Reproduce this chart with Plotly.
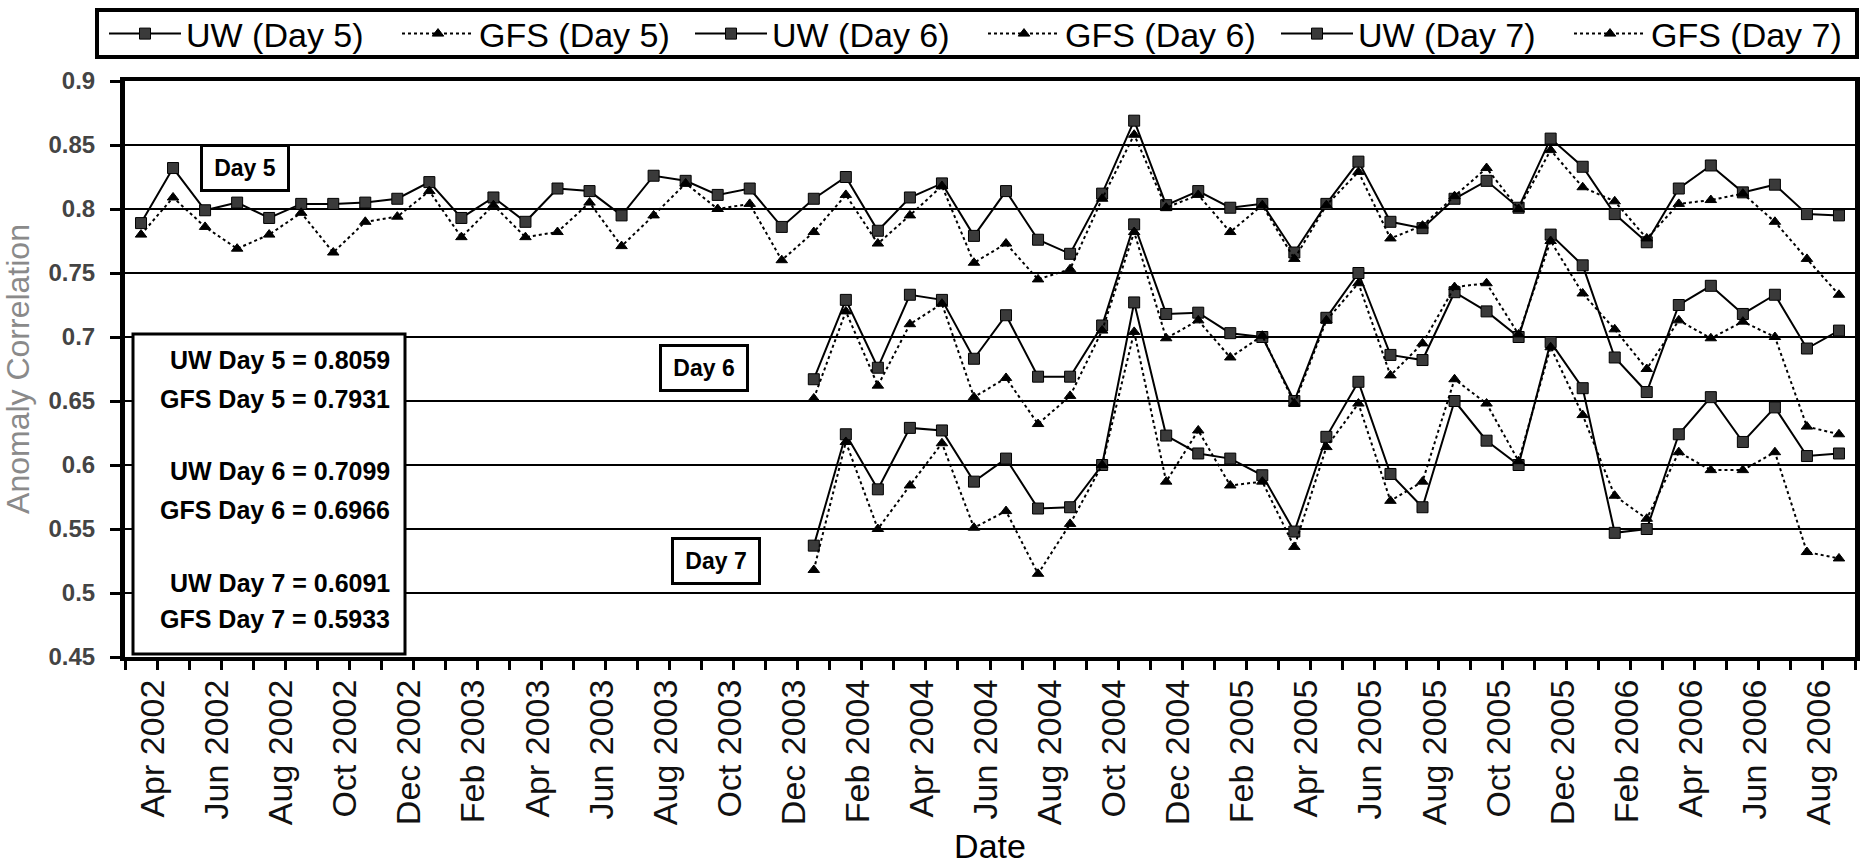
import plotly.graph_objects as go

months = ["Apr 2002","May 2002","Jun 2002","Jul 2002","Aug 2002","Sep 2002","Oct 2002","Nov 2002","Dec 2002",
          "Jan 2003","Feb 2003","Mar 2003","Apr 2003","May 2003","Jun 2003","Jul 2003","Aug 2003","Sep 2003",
          "Oct 2003","Nov 2003","Dec 2003","Jan 2004","Feb 2004","Mar 2004","Apr 2004","May 2004","Jun 2004",
          "Jul 2004","Aug 2004","Sep 2004","Oct 2004","Nov 2004","Dec 2004","Jan 2005","Feb 2005","Mar 2005",
          "Apr 2005","May 2005","Jun 2005","Jul 2005","Aug 2005","Sep 2005","Oct 2005","Nov 2005","Dec 2005",
          "Jan 2006","Feb 2006","Mar 2006","Apr 2006","May 2006","Jun 2006","Jul 2006","Aug 2006","Sep 2006"]

uw_day5 = [0.789,0.832,0.799,0.805,0.793,0.804,0.804,0.805,0.808,0.821,0.793,0.809,0.790,0.816,0.814,0.795,0.826,0.822,
           0.811,0.816,0.786,0.808,0.825,0.783,0.809,0.820,0.779,0.814,0.776,0.765,0.812,0.869,0.803,0.814,0.801,0.804,
           0.766,0.804,0.837,0.790,0.785,0.808,0.822,0.801,0.855,0.833,0.796,0.774,0.816,0.834,0.813,0.819,0.796,0.795]
gfs_day5 = [0.780,0.809,0.786,0.769,0.780,0.797,0.766,0.790,0.794,0.814,0.778,0.803,0.778,0.782,0.805,0.771,0.795,0.820,
            0.800,0.804,0.760,0.782,0.811,0.773,0.795,0.818,0.758,0.773,0.745,0.753,0.808,0.858,0.801,0.811,0.782,0.803,
            0.761,0.803,0.829,0.777,0.787,0.810,0.832,0.800,0.846,0.817,0.806,0.777,0.804,0.807,0.812,0.790,0.761,0.733]

pad = [None] * 21
uw_day6 = pad + [0.667,0.729,0.676,0.733,0.729,0.683,0.717,0.669,0.669,0.709,0.788,0.718,0.719,0.703,0.700,0.650,0.715,
                 0.750,0.686,0.682,0.735,0.720,0.700,0.780,0.756,0.684,0.657,0.725,0.740,0.718,0.733,0.691,0.705]
gfs_day6 = pad + [0.652,0.720,0.662,0.710,0.726,0.653,0.668,0.632,0.654,0.705,0.782,0.699,0.713,0.684,0.701,0.648,0.713,
                  0.742,0.670,0.695,0.739,0.742,0.702,0.775,0.734,0.706,0.675,0.713,0.699,0.712,0.700,0.630,0.624]
uw_day7 = pad + [0.537,0.624,0.581,0.629,0.627,0.587,0.605,0.566,0.567,0.600,0.727,0.623,0.609,0.605,0.592,0.548,0.622,
                 0.665,0.593,0.567,0.650,0.619,0.600,0.696,0.660,0.547,0.550,0.624,0.653,0.618,0.645,0.607,0.609]
gfs_day7 = pad + [0.518,0.618,0.550,0.584,0.617,0.551,0.564,0.515,0.554,0.600,0.704,0.587,0.627,0.584,0.587,0.536,0.614,
                  0.648,0.572,0.587,0.667,0.648,0.603,0.692,0.639,0.576,0.558,0.610,0.596,0.596,0.610,0.532,0.527]

series_names = ["UW (Day 5)", "GFS (Day 5)", "UW (Day 6)", "GFS (Day 6)", "UW (Day 7)", "GFS (Day 7)"]
series_values = [uw_day5, gfs_day5, uw_day6, gfs_day6, uw_day7, gfs_day7]

stats_lines = ["UW Day 5 = 0.8059", "GFS Day 5 = 0.7931", "UW Day 6 = 0.7099",
               "GFS Day 6 = 0.6966", "UW Day 7 = 0.6091", "GFS Day 7 = 0.5933"]
day_labels = ["Day 5", "Day 6", "Day 7"]

y_ticks = [0.45, 0.5, 0.55, 0.6, 0.65, 0.7, 0.75, 0.8, 0.85, 0.9]
y_tick_text = ["0.45", "0.5", "0.55", "0.6", "0.65", "0.7", "0.75", "0.8", "0.85", "0.9"]
tick_text = [m if k % 2 == 0 else "" for k, m in enumerate(months)]

SANS = "Liberation Sans, Arial, sans-serif"

fig = go.Figure()
for name, vals in zip(series_names, series_values):
    is_uw = name.startswith("UW")
    fig.add_trace(go.Scatter(
        x=months, y=vals, name=name, mode="lines+markers", connectgaps=False,
        line=dict(color="black", width=2, dash="solid" if is_uw else "dot"),
        marker=dict(symbol="square" if is_uw else "triangle-up",
                    size=11 if is_uw else 10,
                    color="#3a3a3a" if is_uw else "black",
                    line=dict(color="black", width=1)),
    ))

W, H = 1865, 865
L, R, T, B = 125, 10, 81, 208
pw, ph = W - L - R, H - T - B

def px(xp):
    return (xp - L) / pw

def py(yp):
    return (H - B - yp) / ph

annotations = []
line_y = [360, 399, 471, 510, 583, 619]
for txt, yy in zip(stats_lines, line_y):
    annotations.append(dict(xref="paper", yref="paper", x=px(392), y=py(yy), xanchor="right", yanchor="middle",
                            text=txt, showarrow=False, font=dict(family=SANS, size=25, color="black", weight="bold")))
for txt, (cx, cy) in zip(day_labels, [(245, 168), (704, 368), (716, 561)]):
    annotations.append(dict(xref="paper", yref="paper", x=px(cx), y=py(cy), xanchor="center", yanchor="middle",
                            text=txt, showarrow=False, width=78, height=36, borderpad=3,
                            bordercolor="black", borderwidth=3, bgcolor="white",
                            font=dict(family=SANS, size=23, color="black", weight="bold")))

shapes = [
    dict(type="rect", xref="paper", yref="paper", x0=px(133), x1=px(405), y0=py(654), y1=py(334),
         line=dict(color="black", width=3), fillcolor="white", layer="above"),
    # legend frame
    dict(type="rect", xref="paper", yref="paper", x0=px(97), x1=px(1857), y0=py(57), y1=py(10),
         line=dict(color="black", width=4), fillcolor="rgba(0,0,0,0)", layer="above"),
]

fig.update_layout(
    width=W, height=H, autosize=False,
    margin=dict(l=L, r=R, t=T, b=B, autoexpand=False),
    paper_bgcolor="white", plot_bgcolor="white",
    showlegend=True,
    legend=dict(orientation="h", x=px(104), xanchor="left", y=py(34), yanchor="middle",
                borderwidth=0, bgcolor="rgba(0,0,0,0)",
                font=dict(family=SANS, size=34, color="black"),
                itemwidth=72, entrywidth=206, traceorder="normal"),
    annotations=annotations,
    shapes=shapes,
    xaxis=dict(
        type="category", range=[-0.5, len(months) - 0.5], automargin=False,
        tickmode="array", tickvals=months, ticktext=tick_text,
        tickson="boundaries", ticks="outside", ticklen=9, tickwidth=3, tickcolor="black",
        tickangle=-90, ticklabelshift=12, ticklabelstandoff=5,
        tickfont=dict(family=SANS, size=34, color="#111"),
        showline=True, linecolor="black", linewidth=4, mirror=True,
        showgrid=False, zeroline=False,
        title=dict(text="Date", font=dict(family=SANS, size=34, color="black"), standoff=22),
    ),
    yaxis=dict(
        range=[0.45, 0.9], automargin=False, tickmode="array",
        tickvals=y_ticks, ticktext=y_tick_text,
        ticks="outside", ticklen=10, tickwidth=3, tickcolor="black", ticklabelstandoff=10,
        tickfont=dict(family=SANS, size=24, color="#444", weight="bold"),
        showline=True, linecolor="black", linewidth=5, mirror=True,
        showgrid=True, gridcolor="black", gridwidth=1.5, zeroline=False,
        title=dict(text="Anomaly Correlation", font=dict(family=SANS, size=32, color="#8a8a8a"), standoff=18),
    ),
)

fig.write_html("out.html", config={"displayModeBar": False},
               post_script="document.body.style.margin='0px';")
